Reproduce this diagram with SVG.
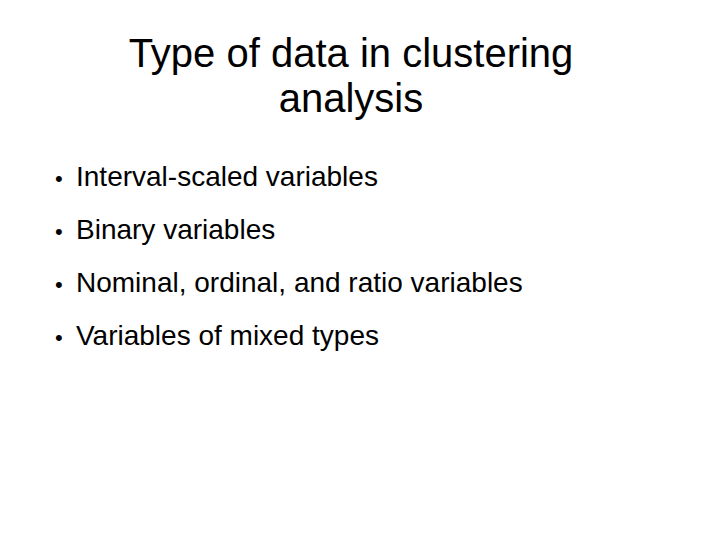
<svg xmlns="http://www.w3.org/2000/svg" width="720" height="540" viewBox="0 0 720 540">
<style>
.t{font-family:"Liberation Sans",Arial,sans-serif;font-size:40px;fill:#000;text-anchor:middle}
.b{font-family:"Liberation Sans",Arial,sans-serif;font-size:28px;fill:#000}
.d{font-family:"Liberation Sans",Arial,sans-serif;font-size:22px;fill:#000}
</style>
<rect width="720" height="540" fill="#fff"/>
<g id="title">
<text class="t" x="351" y="67">Type of data in clustering</text>
<text class="t" x="351" y="112">analysis</text>
</g>
<g id="bullets">
<text class="d" x="55" y="186">•</text><text class="b" x="76" y="186">Interval-scaled variables</text>
<text class="d" x="55" y="239">•</text><text class="b" x="76" y="239">Binary variables</text>
<text class="d" x="55" y="292">•</text><text class="b" x="76" y="292">Nominal, ordinal, and ratio variables</text>
<text class="d" x="55" y="345">•</text><text class="b" x="76" y="345">Variables of mixed types</text>
</g>
</svg>
